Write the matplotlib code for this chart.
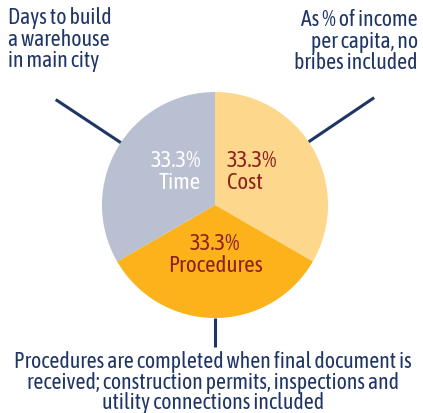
import numpy as np
import matplotlib.pyplot as plt

# Data
labels = ['Cost', 'Procedures', 'Time']
shares = [33.3, 33.3, 33.3]
colors = ['#FDD88C', '#FBB21B', '#B9C0D1']
label_colors = ['#8E1F1F', '#8E1F1F', '#FFFFFF']
notes = ['As % of income\nper capita, no\nbribes included',
         'Procedures are completed when final document is\nreceived; construction permits, inspections and\nutility connections included',
         'Days to build\na warehouse\nin main city']

navy = '#1F3566'
font = ['Asap Condensed', 'PT Sans Narrow', 'DejaVu Sans']

W, H = 423, 413
fig = plt.figure(figsize=(W / 100, H / 100), dpi=100)
ax = fig.add_axes([0, 0, 1, 1])

cx, cy, r = 215, H - 205, 113
ax.pie(shares, colors=colors, startangle=90, counterclock=False,
       center=(cx, cy), radius=r, wedgeprops=dict(linewidth=0))
ax.set_xlim(0, W)
ax.set_ylim(0, H)
ax.set_aspect('equal')
ax.axis('off')

# slice labels
lab_kw = dict(va='center', fontsize=16.5, family=font, linespacing=0.95)
ax.text(227, H - 172, f'{shares[0]}%\n{labels[0]}', ha='left',
        color=label_colors[0], **lab_kw)
ax.text(215, H - 255, f'{shares[1]}%\n{labels[1]}', ha='center',
        color=label_colors[1], **lab_kw)
ax.text(201, H - 172, f'{shares[2]}%\n{labels[2]}', ha='right',
        color=label_colors[2], **lab_kw)

# leader lines
for ang, r2 in [(34, 192), (146.5, 191), (270, 142)]:
    a = np.deg2rad(ang)
    ax.plot([cx + r * np.cos(a), cx + r2 * np.cos(a)],
            [cy + r * np.sin(a), cy + r2 * np.sin(a)],
            color=navy, lw=2.2, solid_capstyle='butt')

# notes
note_kw = dict(va='top', color=navy, fontsize=15.7, family=font, linespacing=0.98)
ax.text(418, H - 9, notes[0], ha='right', **note_kw)
ax.text(8, H - 7, notes[2], ha='left', **note_kw)
ax.text(213, H - 351, notes[1], ha='center', va='top', color=navy,
        fontsize=15.7, family=font, linespacing=0.92)

fig.savefig('out.png', dpi=100)
